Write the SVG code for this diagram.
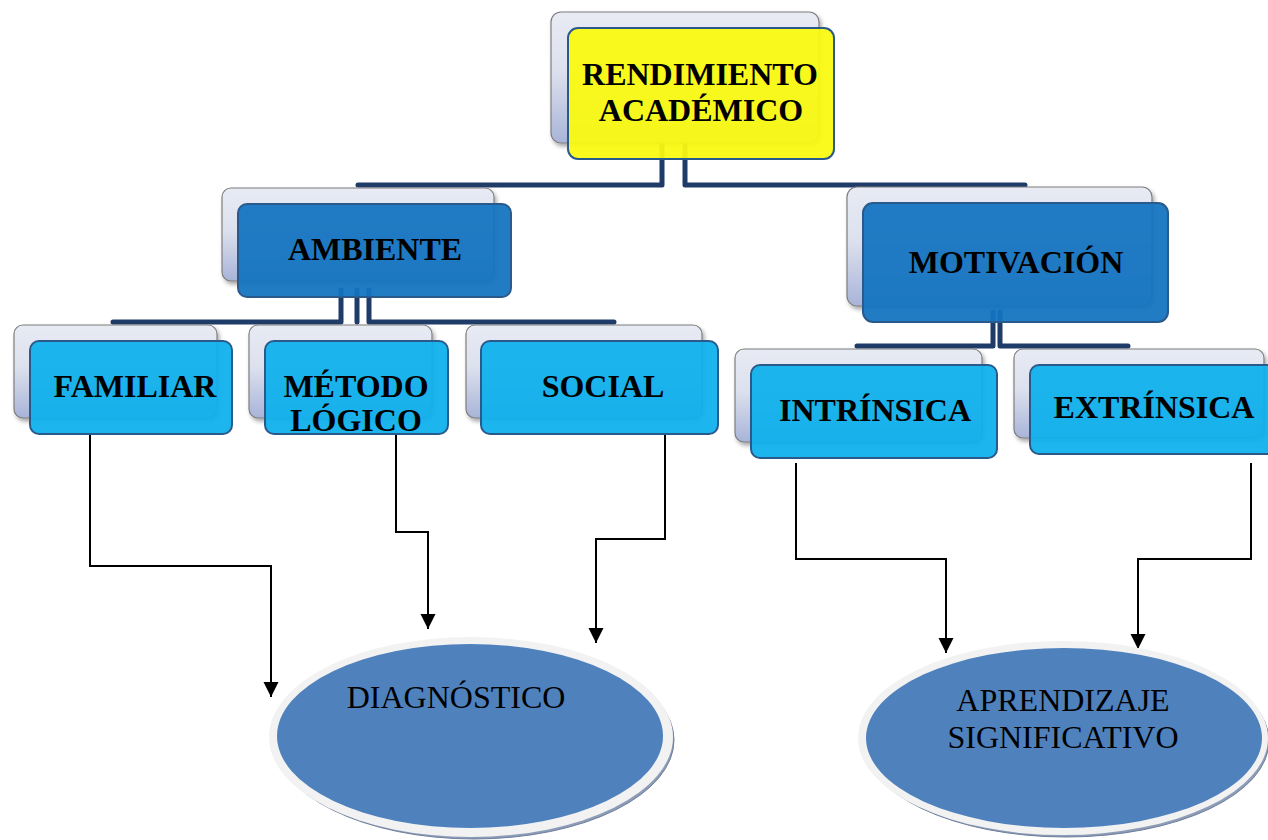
<svg xmlns="http://www.w3.org/2000/svg" width="1268" height="840" viewBox="0 0 1268 840">
  <defs>
    <linearGradient id="backGrad" x1="0" y1="0" x2="0" y2="1">
      <stop offset="0" stop-color="#e8ebf4"/>
      <stop offset="0.45" stop-color="#dde1ee"/>
      <stop offset="1" stop-color="#a8b4d8"/>
    </linearGradient>
    <filter id="shadow" x="-10%" y="-10%" width="125%" height="130%">
      <feDropShadow dx="2" dy="3" stdDeviation="2" flood-color="#000" flood-opacity="0.35"/>
    </filter>
    <marker id="arrow" markerUnits="userSpaceOnUse" markerWidth="16" markerHeight="16" refX="15" refY="8" orient="auto">
      <path d="M0,0.5 L15,8 L0,15.5 z" fill="#000"/>
    </marker>
    <style>
      .back { fill: url(#backGrad); stroke: #7f7f7f; stroke-width: 1.2; filter: url(#shadow); }
      .front { stroke: #2a5a8c; stroke-width: 2; fill-opacity: 0.94; }
      .yellow { fill: #fafa10; }
      .mid { fill: #1474c0; }
      .light { fill: #0fb0ec; }
      .lbl { font-family: "Liberation Serif", "Times New Roman", serif; font-weight: bold; font-size: 32px; fill: #000; text-anchor: middle; }
      .elbl { font-family: "Liberation Serif", "Times New Roman", serif; font-size: 32px; fill: #000; text-anchor: middle; }
      .navy { fill: none; stroke: #1f3c68; stroke-width: 5; stroke-linejoin: round; stroke-linecap: round; }
      .thin { fill: none; stroke: #000; stroke-width: 2; marker-end: url(#arrow); }
      .eOuter { fill: #f2f2f2; }
      .eInner { fill: #4f81bd; }
      .eRim { fill: #8d9db8; stroke: #6f7f9c; stroke-width: 1; }
    </style>
  </defs>

  <g id="connectors">
    <path class="navy" d="M662 145 V185 H358"/>
    <path class="navy" d="M685 145 V185 H1025"/>
    <path class="navy" d="M341 290 V322 H113"/>
    <path class="navy" d="M357 290 V322"/>
    <path class="navy" d="M369 290 V322 H614"/>
    <path class="navy" d="M993 312 V346 H857"/>
    <path class="navy" d="M1000 312 V346 H1128"/>
    <path class="thin" d="M90 434 V566 H271 V697"/>
    <path class="thin" d="M396 434 V532 H428 V629"/>
    <path class="thin" d="M665 434 V539 H596 V643"/>
    <path class="thin" d="M796 463 V559 H946 V653"/>
    <path class="thin" d="M1251 463 V559 H1138 V649"/>
  </g>

  <g id="node-rendimiento">
    <rect class="back" x="551" y="12" width="268" height="131" rx="10"/>
    <rect class="front yellow" x="568" y="28" width="266" height="131" rx="10"/>
    <text class="lbl" x="700" y="85">RENDIMIENTO</text>
    <text class="lbl" x="701" y="121">ACADÉMICO</text>
  </g>

  <g id="node-ambiente">
    <rect class="back" x="222" y="188" width="272" height="93" rx="9"/>
    <rect class="front mid" x="238" y="204" width="273" height="93" rx="9"/>
    <text class="lbl" x="375" y="260">AMBIENTE</text>
  </g>

  <g id="node-motivacion">
    <rect class="back" x="847" y="187" width="305" height="119" rx="10"/>
    <rect class="front mid" x="863" y="203" width="305" height="119" rx="10"/>
    <text class="lbl" x="1016" y="273">MOTIVACIÓN</text>
  </g>

  <g id="node-familiar">
    <rect class="back" x="14" y="325" width="203" height="93" rx="9"/>
    <rect class="front light" x="30" y="341" width="202" height="93" rx="9"/>
    <text class="lbl" x="135" y="397">FAMILIAR</text>
  </g>

  <g id="node-metodo">
    <rect class="back" x="249" y="325" width="183" height="93" rx="9"/>
    <rect class="front light" x="265" y="341" width="183" height="93" rx="9"/>
    <text class="lbl" x="356" y="397">MÉTODO</text>
    <text class="lbl" x="356" y="431">LÓGICO</text>
  </g>

  <g id="node-social">
    <rect class="back" x="466" y="325" width="236" height="93" rx="9"/>
    <rect class="front light" x="481" y="341" width="237" height="93" rx="9"/>
    <text class="lbl" x="603" y="397">SOCIAL</text>
  </g>

  <g id="node-intrinsica">
    <rect class="back" x="735" y="349" width="247" height="93" rx="9"/>
    <rect class="front light" x="751" y="365" width="246" height="93" rx="9"/>
    <text class="lbl" x="875" y="421">INTRÍNSICA</text>
  </g>

  <g id="node-extrinsica">
    <rect class="back" x="1014" y="349" width="250" height="89" rx="9"/>
    <rect class="front light" x="1030" y="365" width="246" height="89" rx="9"/>
    <text class="lbl" x="1154" y="418">EXTRÍNSICA</text>
  </g>

  <g id="node-diagnostico">
    <ellipse class="eRim" cx="474" cy="740" rx="200" ry="99"/>
    <ellipse class="eOuter" cx="471" cy="737" rx="202" ry="100"/>
    <ellipse class="eInner" cx="470" cy="736" rx="193" ry="92"/>
    <text class="elbl" x="456" y="708">DIAGNÓSTICO</text>
  </g>

  <g id="node-aprendizaje">
    <ellipse class="eRim" cx="1066" cy="741" rx="203" ry="96"/>
    <ellipse class="eOuter" cx="1063" cy="738" rx="205" ry="97"/>
    <ellipse class="eInner" cx="1064" cy="738" rx="198" ry="90"/>
    <text class="elbl" x="1063" y="711">APRENDIZAJE</text>
    <text class="elbl" x="1063" y="748">SIGNIFICATIVO</text>
  </g>
</svg>
